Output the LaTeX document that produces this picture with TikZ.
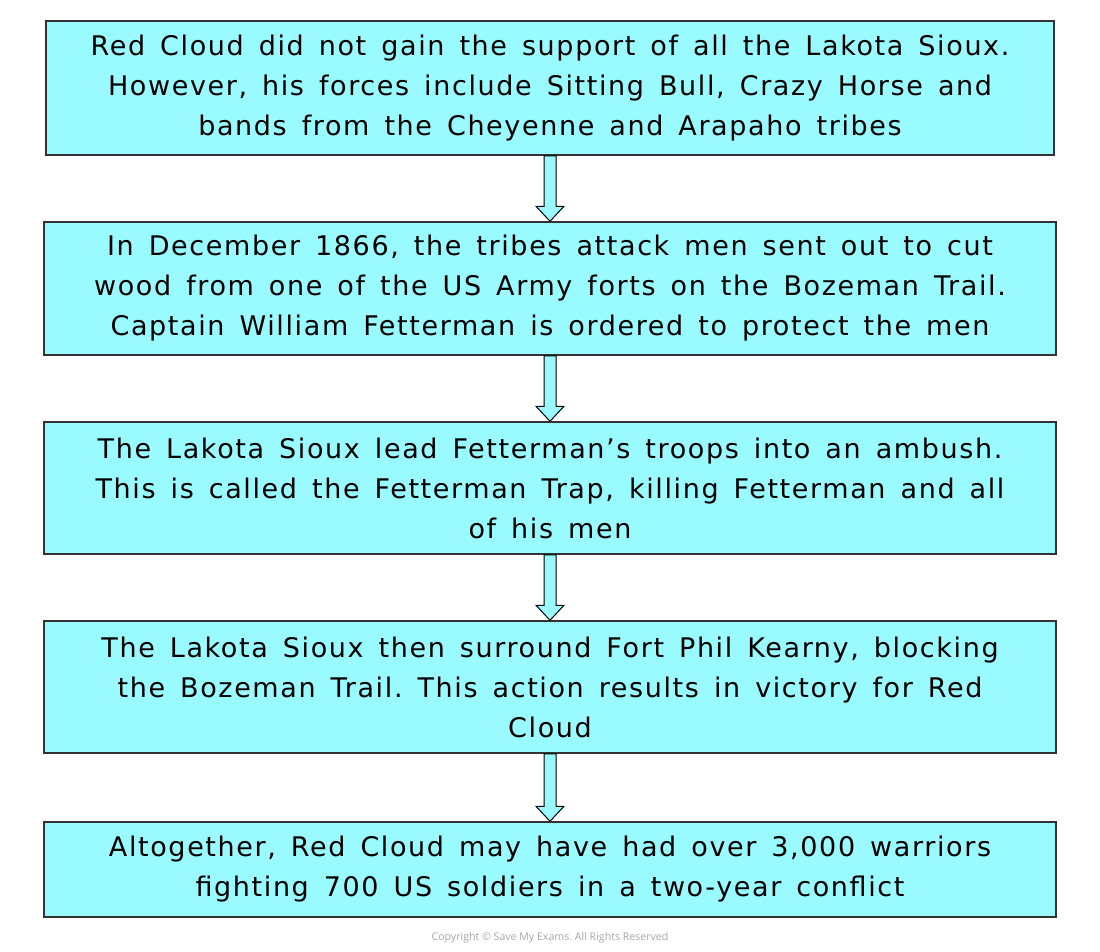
\documentclass[tikz,border=0pt]{standalone}
\usepackage{fontspec}
\setmainfont[LetterSpace=6]{DejaVu Sans}
\newfontfamily\notefont{Open Sans}
\usetikzlibrary{arrows}
\definecolor{boxcyan}{HTML}{99FAFF}
\definecolor{boxline}{HTML}{333333}
\frenchspacing
\tikzset{
      event/.style={draw=boxline, fill=boxcyan, line width=1.5, align=center,
            text width=1000pt, inner sep=0pt, minimum width=1010pt,
            font=\fontsize{27}{40}\selectfont,
            execute at begin node={\spaceskip=15pt\relax}},
      flowarrow/.style={draw=black, fill=boxcyan, line width=1, line join=miter},
      note/.style={text=gray!70, font=\notefont\fontsize{10.6}{12}\selectfont},
}
\newcommand{\flowto}[2]{%
      \path (#1.south) coordinate (s) (#2.north) coordinate (t);
      \draw[flowarrow] ([xshift=-6]s) -- ([xshift=-6,yshift=15]t) -- ([xshift=-14,yshift=15]t)
            -- (t) -- ([xshift=14,yshift=15]t) -- ([xshift=6,yshift=15]t) -- ([xshift=6]s) -- cycle;
}
\begin{document}
\begin{tikzpicture}[x=1pt, y=-1pt]
        \useasboundingbox (0,0) rectangle (1100,951);

        % Draw the boxes
        \node[event, minimum width=1008pt, minimum height=134pt] (support) at (550,88)
              {Red Cloud did not gain the support of all the Lakota Sioux.\\
               However, his forces include Sitting Bull, Crazy Horse and\\
               bands from the Cheyenne and Arapaho tribes};
        \node[event, minimum width=1012pt, minimum height=133pt] (attack) at (550,288.5)
              {In December 1866, the tribes attack men sent out to cut\\
               wood from one of the US Army forts on the Bozeman Trail.\\
               Captain William Fetterman is ordered to protect the men};
        \node[event, minimum width=1012pt, minimum height=132pt] (ambush) at (550,488)
              {The Lakota Sioux lead Fetterman’s troops into an ambush.\\
               This is called the Fetterman Trap, killing Fetterman and all\\
               of his men};
        \node[event, minimum width=1012pt, minimum height=132pt] (siege) at (550,687)
              {The Lakota Sioux then surround Fort Phil Kearny, blocking\\
               the Bozeman Trail. This action results in victory for Red\\
               Cloud};
        \node[event, minimum width=1012pt, minimum height=95pt] (total) at (550,869.5)
              {Altogether, Red Cloud may have had over 3,000 warriors\\
               fighting 700 US soldiers in a two-year conflict};

        % Draw the arrows
        \flowto{support}{attack}
        \flowto{attack}{ambush}
        \flowto{ambush}{siege}
        \flowto{siege}{total}

        \node[note] (copy) at (550,938) {Copyright © Save My Exams. All Rights Reserved};

    \end{tikzpicture}
\end{document}
